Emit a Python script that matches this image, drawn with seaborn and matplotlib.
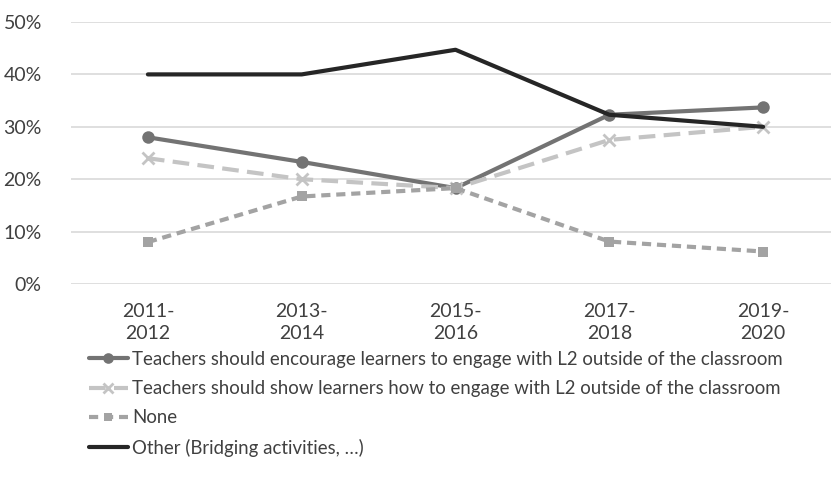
import pandas as pd
import seaborn as sns
import matplotlib.pyplot as plt
from matplotlib.ticker import PercentFormatter

years = ['2011-\n2012', '2013-\n2014', '2015-\n2016', '2017-\n2018', '2019-\n2020']
encourage = [28.0, 23.3, 18.3, 32.3, 33.7]
show = [24.0, 20.0, 18.3, 27.5, 30.0]
none = [8.0, 16.7, 18.3, 8.1, 6.2]
other = [40.0, 40.0, 44.7, 32.3, 30.0]

labels = ['Teachers should encourage learners to engage with L2 outside of the classroom',
          'Teachers should show learners how to engage with L2 outside of the classroom',
          'None',
          'Other (Bridging activities, \u2026)']

sns.set_style('white')
plt.rcParams['font.family'] = ['Lato', 'DejaVu Sans']
plt.rcParams['text.color'] = '#404040'

fig = plt.figure(figsize=(8.31, 4.96), dpi=100)
ax = fig.add_axes([71 / 831, (496 - 284) / 496, 769 / 831, 262 / 496])

x = list(range(len(years)))
styles = [
    (encourage, '#737373', 'o', '-', 9, 3.0),
    (show, '#c4c4c4', 'x', (0, (4, 2)), 8, 3.0),
    (none, '#a3a3a3', 's', (0, (2.2, 1.4)), 7, 3.0),
    (other, '#262626', None, '-', 0, 3.0),
]
for (vals, col, mk, ls, ms, lw), lab in zip(styles, labels):
    sns.lineplot(x=x, y=vals, ax=ax, color=col, marker=mk, linestyle=ls,
                 markersize=ms, linewidth=lw, markeredgewidth=2 if mk == 'x' else 0,
                 markeredgecolor=col, label=lab, legend=False)

ax.set_xlim(-0.5, 4.5)
ax.set_ylim(0, 50)
ax.set_yticks([0, 10, 20, 30, 40, 50])
ax.yaxis.set_major_formatter(PercentFormatter(decimals=0))
ax.set_xticks(x)
ax.set_xticklabels(years, linespacing=1.35)
ax.grid(axis='y', color='#d9d9d9', linewidth=1.2)
ax.set_axisbelow(True)
for s in ax.spines.values():
    s.set_visible(False)
ax.tick_params(axis='both', labelsize=14, labelcolor='#404040', length=0, pad=14)
ax.tick_params(axis='y', pad=21)

handles, labs = ax.get_legend_handles_labels()
fig.legend(handles, labs, loc='upper left', bbox_to_anchor=(72 / 831, 1 - 334 / 496),
           frameon=False, fontsize=13.4, handlelength=2.1, handletextpad=0.25,
           labelspacing=0.66, markerscale=0.85)

fig.savefig('out.png', dpi=100)
